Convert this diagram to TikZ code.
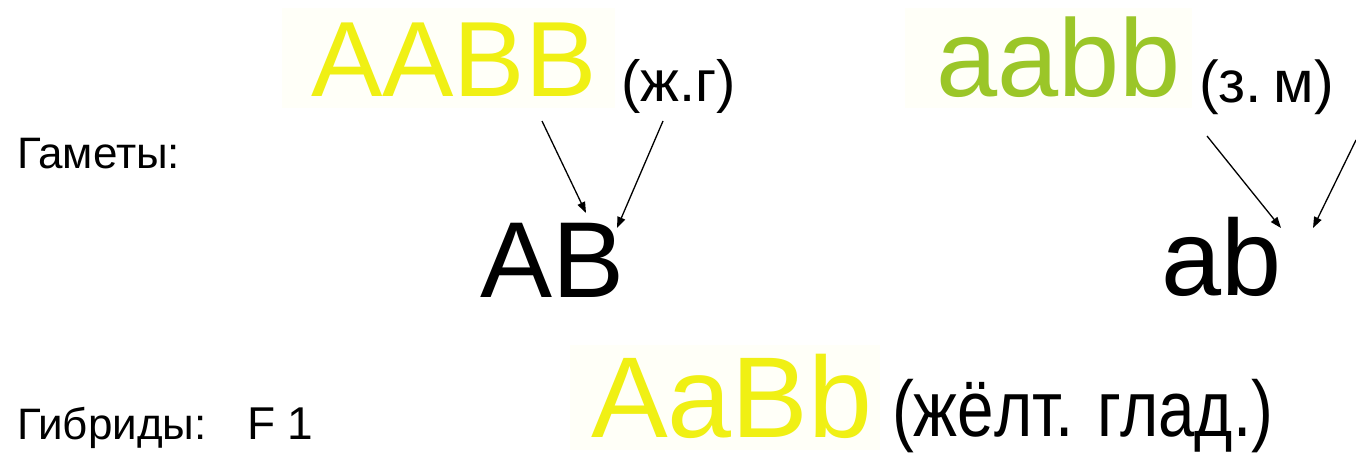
\documentclass[tikz,border=0pt]{standalone}
\usepackage{fontspec}
\setmainfont{Liberation Sans}
\usetikzlibrary{arrows.meta}
\definecolor{yel}{RGB}{240,240,20}
\definecolor{grn}{RGB}{155,198,40}
\definecolor{tint}{RGB}{255,255,248}
\tikzset{
  lbl/.style={anchor=base west, inner sep=0pt, outer sep=0pt},
  fs/.style={font=\fontsize{#1}{#1}\selectfont},
  arr/.style={draw=black, line width=1.3pt, -{Triangle[length=11pt,width=8pt]}}
}
\begin{document}
\begin{tikzpicture}[x=1pt,y=-1pt]
\useasboundingbox (0,0) rectangle (1356,453);
\fill[tint] (282,8) rectangle (615,108);
\fill[tint] (905,8) rectangle (1192,108);
\fill[tint] (570,345) rectangle (880,450);
\node[lbl, fs=107, text=yel] (P1) at (311,96) {AABB};
\node[lbl, fs=58] (P1l) at (621,101) {(ж.г)};
\node[lbl, fs=110, text=grn] (P2) at (936,96) {aabb};
\node[lbl, fs=59] (P2l) at (1199,102) {(з.\hspace{0.2em}м)};
\node[lbl, fs=44] (gam) at (17,168) {Гаметы:};
\node[lbl, fs=108] (G1) at (480,297) {AB};
\node[lbl, fs=108] (G2) at (1161,295) {ab};
\node[lbl, fs=44] (hyb) at (17,439) {Гибриды:};
\node[lbl, fs=46] (F1) at (247,439) {F 1};
\node[lbl, fs=115, text=yel, text depth=0pt] (H) at (591,437) {AaBb};
\node[lbl, fs=79, xscale=0.83] (Hl) at (892,436) {(жёлт. глад.)};
\coordinate (a1s) at (542,121);
\coordinate (a1e) at (586,213);
\coordinate (a2s) at (663,121);
\coordinate (a2e) at (617,228);
\coordinate (a3s) at (1207,136);
\coordinate (a3e) at (1281,228);
\coordinate (a4s) at (1356,140);
\coordinate (a4e) at (1313,228);
\draw[arr] (a1s) -- (a1e);
\draw[arr] (a2s) -- (a2e);
\draw[arr] (a3s) -- (a3e);
\draw[arr] (a4s) -- (a4e);
\end{tikzpicture}
\end{document}
